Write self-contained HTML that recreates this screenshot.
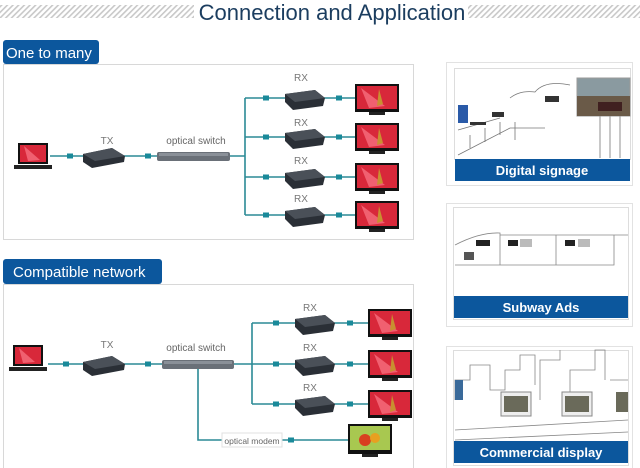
<!DOCTYPE html>
<html><head><meta charset="utf-8"><style>
html,body{margin:0;padding:0;background:#fff;width:640px;height:468px;overflow:hidden}
svg{display:block;font-family:"Liberation Sans","DejaVu Sans",sans-serif}
</style></head><body>
<svg width="640" height="468" viewBox="0 0 640 468" xmlns="http://www.w3.org/2000/svg">
<defs>
<pattern id="hatch" width="4" height="4" patternUnits="userSpaceOnUse" patternTransform="rotate(45)">
<rect width="4" height="4" fill="#fff"/><rect width="1.6" height="4" fill="#c8c8c8"/></pattern>
<g id="mon"><rect x="0" y="0" width="44" height="28" fill="#111"/><rect x="2" y="2" width="40" height="23" fill="#d8283a"/><path d="M6 4 L30 22 L14 24Z" fill="#f06070"/><path d="M24 5 L28 20 L22 22Z" fill="#c89030"/><rect x="14" y="28" width="16" height="3" fill="#222"/></g>
<g id="rx"><path d="M0 6 L30 2 L40 10 L38 18 L8 22 L0 14Z" fill="#2a2f36"/><path d="M0 6 L30 2 L40 10 L10 14Z" fill="#4a5058"/></g>
<g id="dot"><rect x="-3" y="-2.5" width="6" height="5" fill="#1a8a9a"/></g>
<g id="lap"><rect x="4" y="0" width="30" height="21" fill="#111"/><rect x="6" y="2" width="26" height="17" fill="#d8283a"/><path d="M10 3 L26 17 L14 18Z" fill="#f06070"/><rect x="0" y="22" width="38" height="4" fill="#222"/></g>
</defs>

<!-- title -->
<rect x="0" y="5" width="194" height="13" fill="url(#hatch)"/>
<rect x="468" y="5" width="172" height="13" fill="url(#hatch)"/>
<text x="332" y="20" text-anchor="middle" font-size="22" fill="#1b3d5f">Connection and Application</text>

<!-- section 1 -->
<rect x="3.5" y="64.5" width="410" height="175" fill="#fff" stroke="#d8d8d8"/>
<rect x="3" y="40" width="96" height="24" rx="3" fill="#0c579d"/>
<text x="6" y="58" font-size="15" fill="#fff">One to many</text>

<g stroke="#2b8a96" stroke-width="1.6" fill="none">
<line x1="50" y1="156" x2="245" y2="156"/>
<path d="M245 98 V215 M245 98 H355 M245 137 H355 M245 177 H355 M245 215 H355"/>
</g>
<use href="#lap" x="14" y="143"/>
<text x="107" y="144" font-size="10" fill="#777" text-anchor="middle">TX</text>
<path d="M83 154 L112 148 L125 156 L124 162 L92 168 L83 162Z" fill="#2a2f36"/><path d="M83 154 L112 148 L125 156 L95 161Z" fill="#4a5058"/>
<use href="#dot" x="70" y="156"/><use href="#dot" x="148" y="156"/>
<rect x="157" y="152" width="73" height="9" rx="2" fill="#6a7078"/><rect x="159" y="153" width="69" height="3" fill="#8a9098"/>
<text x="196" y="144" font-size="10" fill="#666" text-anchor="middle">optical switch</text>
<g font-size="10" fill="#777" text-anchor="middle">
<text x="301" y="81">RX</text><text x="301" y="126">RX</text><text x="301" y="164">RX</text><text x="301" y="202">RX</text></g>
<use href="#dot" x="266" y="98"/><use href="#dot" x="339" y="98"/><use href="#rx" x="285" y="88"/><use href="#mon" x="355" y="84"/>
<use href="#dot" x="266" y="137"/><use href="#dot" x="339" y="137"/><use href="#rx" x="285" y="127"/><use href="#mon" x="355" y="123"/>
<use href="#dot" x="266" y="177"/><use href="#dot" x="339" y="177"/><use href="#rx" x="285" y="167"/><use href="#mon" x="355" y="163"/>
<use href="#dot" x="266" y="215"/><use href="#dot" x="339" y="215"/><use href="#rx" x="285" y="205"/><use href="#mon" x="355" y="201"/>

<!-- section 2 -->
<rect x="3.5" y="284.5" width="410" height="190" fill="#fff" stroke="#d8d8d8"/>
<rect x="3" y="259" width="159" height="25" rx="3" fill="#0c579d"/>
<text x="13" y="277" font-size="15" fill="#fff">Compatible network</text>

<g stroke="#2b8a96" stroke-width="1.6" fill="none">
<line x1="48" y1="364" x2="252" y2="364"/>
<path d="M252 323 V404 M252 323 H368 M252 364 H368 M252 404 H368"/>
<path d="M198 366 V440 H222 M282 440 H348"/>
</g>
<use href="#lap" x="9" y="345"/>
<text x="107" y="348" font-size="10" fill="#777" text-anchor="middle">TX</text>
<path d="M83 362 L112 356 L125 364 L124 370 L92 376 L83 370Z" fill="#2a2f36"/><path d="M83 362 L112 356 L125 364 L95 369Z" fill="#4a5058"/>
<use href="#dot" x="66" y="364"/><use href="#dot" x="148" y="364"/>
<rect x="162" y="360" width="72" height="9" rx="2" fill="#6a7078"/><rect x="164" y="361" width="68" height="3" fill="#8a9098"/>
<text x="196" y="351" font-size="10" fill="#666" text-anchor="middle">optical switch</text>
<g font-size="10" fill="#777" text-anchor="middle">
<text x="310" y="311">RX</text><text x="310" y="351">RX</text><text x="310" y="391">RX</text></g>
<use href="#dot" x="276" y="323"/><use href="#dot" x="350" y="323"/><use href="#rx" x="295" y="313"/><use href="#mon" x="368" y="309"/>
<use href="#dot" x="276" y="364"/><use href="#dot" x="350" y="364"/><use href="#rx" x="295" y="354"/><use href="#mon" x="368" y="350"/>
<use href="#dot" x="276" y="404"/><use href="#dot" x="350" y="404"/><use href="#rx" x="295" y="394"/><use href="#mon" x="368" y="390"/>
<use href="#dot" x="291" y="440"/>
<rect x="222" y="433" width="60" height="14" fill="#fff" stroke="#e0e0e0"/>
<text x="252" y="444" font-size="8.5" fill="#666" text-anchor="middle">optical modem</text>
<rect x="348" y="424" width="44" height="30" fill="#111"/><rect x="350" y="426" width="40" height="24" fill="#a8c850"/><circle cx="365" cy="440" r="6" fill="#d84020"/><circle cx="375" cy="438" r="5" fill="#e8a020"/><rect x="362" y="454" width="16" height="3" fill="#222"/>

<!-- right panels -->
<g>
<rect x="446.5" y="62.5" width="186" height="123" fill="#fff" stroke="#e2e2e2"/>
<rect x="454.5" y="68.5" width="176" height="91" fill="#fff" stroke="#ddd"/>
<g stroke="#777" fill="none" stroke-width="0.8"><path d="M458 155 L510 128 L545 128 M458 130 L500 118 M470 148 V135 M485 142 V128 M500 135 V122 M515 140 V122 M510 98 Q520 90 535 92 Q545 80 570 85"/><path d="M600 115 V158 M610 115 V158 M620 115 V158"/></g>
<rect x="458" y="105" width="10" height="18" fill="#2a5aa8"/><rect x="470" y="122" width="16" height="3" fill="#333"/><rect x="492" y="112" width="12" height="5" fill="#333"/><rect x="545" y="96" width="14" height="6" fill="#333"/>
<rect x="577" y="78" width="53" height="38" fill="#8a9aa0" stroke="#999"/><rect x="577" y="96" width="53" height="20" fill="#6a5a48"/><rect x="598" y="102" width="24" height="9" fill="#402020"/>
<rect x="455" y="159" width="175" height="22" fill="#0c579d"/>
<text x="542" y="175" font-size="13" fill="#fff" text-anchor="middle" font-weight="bold">Digital signage</text>
</g>
<g>
<rect x="446.5" y="203.5" width="186" height="123" fill="#fff" stroke="#e2e2e2"/>
<rect x="453.5" y="207.5" width="175" height="112" fill="#fff" stroke="#ddd"/>
<g stroke="#888" fill="none" stroke-width="0.8"><path d="M455 245 Q480 232 500 233 V265 H455 M500 235 H556 V265 H500 M556 235 H614 V265 H556 M614 235 H628"/></g>
<rect x="476" y="240" width="14" height="6" fill="#222"/><rect x="508" y="240" width="10" height="6" fill="#222"/><rect x="520" y="239" width="12" height="8" fill="#bbb"/><rect x="565" y="240" width="10" height="6" fill="#222"/><rect x="578" y="239" width="12" height="8" fill="#bbb"/><rect x="464" y="252" width="10" height="8" fill="#555"/>
<rect x="454" y="296" width="174" height="22" fill="#0c579d"/>
<text x="541" y="312" font-size="13" fill="#fff" text-anchor="middle" font-weight="bold">Subway Ads</text>
</g>
<g>
<rect x="446.5" y="346.5" width="186" height="125" fill="#fff" stroke="#e2e2e2"/>
<rect x="453.5" y="350.5" width="175" height="115" fill="#fff" stroke="#ddd"/>
<g stroke="#888" fill="none" stroke-width="0.8"><path d="M455 400 V380 H470 V365 H490 V390 H505 V370 H520 V355 H535 V385 M540 400 V360 H560 V350 M570 395 V370 H595 V350 H605 V380 M610 380 H628 M455 430 L628 420 M455 440 L628 432"/></g>
<rect x="501" y="392" width="30" height="24" fill="#eee" stroke="#888"/><rect x="504" y="396" width="24" height="16" fill="#6a6a5a"/>
<rect x="562" y="392" width="30" height="24" fill="#eee" stroke="#888"/><rect x="565" y="396" width="24" height="16" fill="#6a6a5a"/>
<rect x="455" y="380" width="8" height="20" fill="#3a6a9a"/><rect x="616" y="392" width="12" height="20" fill="#6a6a5a"/>
<rect x="454" y="441" width="174" height="22" fill="#0c579d"/>
<text x="541" y="457" font-size="13" fill="#fff" text-anchor="middle" font-weight="bold">Commercial display</text>
</g>
</svg>
</body></html>
